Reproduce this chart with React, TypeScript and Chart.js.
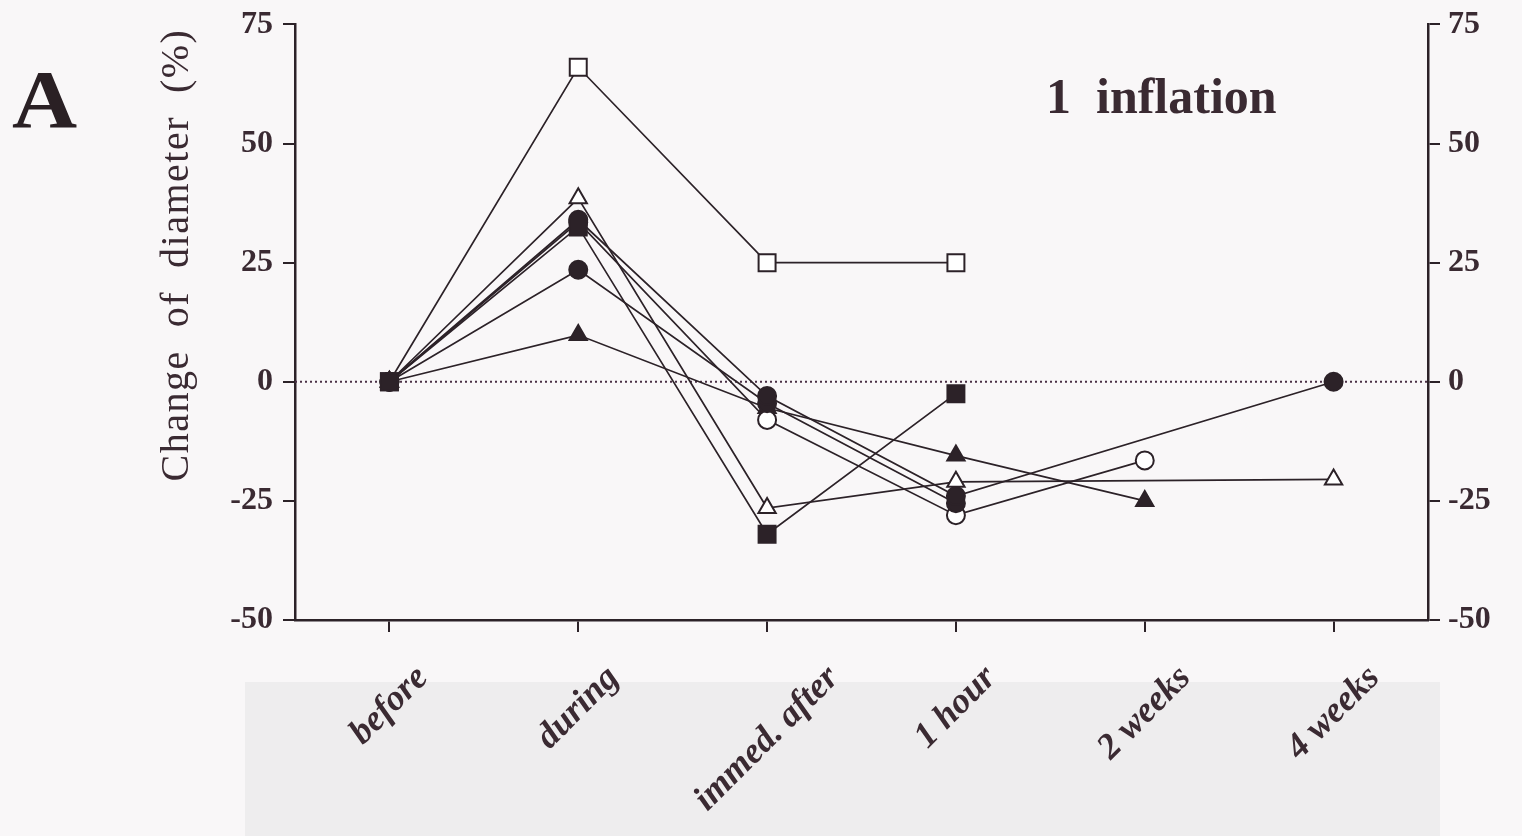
import React, { useEffect, useRef } from "react";
import { Chart, registerables } from "chart.js";

Chart.register(...registerables);

const categories = ["before", "during", "immed. after", "1 hour", "2 weeks", "4 weeks"];
const filledSquare = [0, 32.5, -32, -2.5, null, null];
const filledCircleA = [0, 34, -3, -24, null, 0];
const filledCircleB = [0, 23.5, -4.5, -25.5, null, null];
const openCircle = [0, 33.5, -8, -28, -16.5, null];
const openTriangle = [0, 38.5, -26.5, -21, null, -20.5];
const filledTriangle = [0, 9.8, -5.5, -15.5, -25, null];
const openSquare = [0, 66, 25, 25, null, null];
const yMin = -50;
const yMax = 75;
const yStep = 25;
const yTitle = "Change of diameter (%)";
const panelLetter = "A";
const panelTitle = "1 inflation";

const INK = "#2c2228";
const TEXT = "#3a2a32";
const SERIF = "'Liberation Serif', 'Times New Roman', serif";

export default function App() {
  const ref = useRef<HTMLCanvasElement | null>(null);

  useEffect(() => {
    document.body.style.margin = "0";
    const canvas = ref.current;
    if (!canvas) return;

    const mk = (data: (number | null)[], style: string, filled: boolean, radius: number, spanGaps = false) => ({
      data,
      borderColor: INK,
      borderWidth: 1.7,
      pointStyle: style,
      pointRadius: radius,
      pointHoverRadius: radius,
      pointBackgroundColor: filled ? INK : "#ffffff",
      pointBorderColor: INK,
      pointBorderWidth: 2,
      spanGaps,
      tension: 0,
      fill: false,
    });

    const decor = {
      id: "decor",
      beforeDraw(chart: any) {
        const { ctx, width, height } = chart;
        ctx.save();
        ctx.fillStyle = "#f9f7f8";
        ctx.fillRect(0, 0, width, height);
        ctx.fillStyle = "#eeedee";
        ctx.fillRect(245, 682, 1195, height - 682);
        ctx.restore();
      },
      beforeDatasetsDraw(chart: any) {
        const { ctx, chartArea, scales } = chart;
        const y0 = scales.y.getPixelForValue(0);
        ctx.save();
        ctx.strokeStyle = "#4a3045";
        ctx.lineWidth = 1.8;
        ctx.setLineDash([2, 3]);
        ctx.beginPath();
        ctx.moveTo(chartArea.left, y0);
        ctx.lineTo(chartArea.right, y0);
        ctx.stroke();
        ctx.restore();
      },
      afterDraw(chart: any) {
        const { ctx, scales } = chart;
        ctx.save();
        ctx.fillStyle = TEXT;
        // x labels, rotated 45°, centred on their ticks
        ctx.font = `italic bold 36px ${SERIF}`;
        const H = 30;
        categories.forEach((lab, i) => {
          const x = scales.x.getPixelForTick(i);
          const L = ctx.measureText(lab).width;
          const bb = (L + H) * Math.SQRT1_2;
          const cy = 662 + bb / 2;
          ctx.save();
          ctx.translate(x, cy);
          ctx.rotate(-Math.PI / 4);
          ctx.textAlign = "center";
          ctx.textBaseline = "middle";
          ctx.fillText(lab, 0, 0);
          ctx.restore();
        });
        // y title
        ctx.save();
        ctx.font = `40px ${SERIF}`;
        (ctx as any).letterSpacing = "1.5px";
        ctx.translate(188, 255);
        ctx.rotate(-Math.PI / 2);
        ctx.textAlign = "center";
        ctx.textBaseline = "alphabetic";
        ctx.fillText(yTitle.replace(/ /g, "  "), 0, 0);
        ctx.restore();
        // panel letter
        ctx.save();
        ctx.font = `bold 82px ${SERIF}`;
        ctx.textAlign = "left";
        ctx.textBaseline = "alphabetic";
        ctx.fillStyle = "#2a2024";
        ctx.translate(12, 127);
        ctx.scale(1.1, 1);
        ctx.fillText(panelLetter, 0, 0);
        ctx.restore();
        // panel title
        ctx.font = `bold 50px ${SERIF}`;
        ctx.fillStyle = TEXT;
        ctx.textAlign = "left";
        ctx.fillText(panelTitle.replace(" ", "  "), 1046, 113);
        ctx.restore();
      },
    };

    const yTickCfg = {
      font: { family: SERIF, size: 32, weight: "bold" as const, lineHeight: 0.9 },
      color: TEXT,
      padding: 10,
      stepSize: yStep,
      callback: (v: any) => String(v),
    };

    const chart = new Chart(canvas, {
      type: "line",
      data: {
        labels: categories,
        datasets: [
          mk(filledSquare, "rect", true, 12),
          mk(filledCircleA, "circle", true, 9, true),
          mk(filledCircleB, "circle", true, 9),
          mk(openCircle, "circle", false, 9),
          mk(openTriangle, "triangle", false, 10, true),
          mk(filledTriangle, "triangle", true, 10),
          mk(openSquare, "rect", false, 12),
        ] as any,
      },
      plugins: [decor],
      options: {
        animation: false,
        responsive: false,
        events: [],
        layout: { padding: { top: 22, left: 0, right: 0, bottom: 0 } },
        plugins: { legend: { display: false }, tooltip: { enabled: false }, title: { display: false } },
        scales: {
          x: {
            type: "category",
            offset: true,
            grid: { offset: false, drawOnChartArea: false, drawTicks: true, tickLength: 12, color: INK, lineWidth: 2 },
            border: { display: true, color: INK, width: 2.5 },
            ticks: { display: false },
            afterFit: (s: any) => { s.height = 216; },
          },
          y: {
            type: "linear",
            position: "left",
            min: yMin,
            max: yMax,
            grid: { drawOnChartArea: false, drawTicks: true, tickLength: 12, color: INK, lineWidth: 2 },
            border: { display: true, color: INK, width: 2.5 },
            ticks: yTickCfg,
            afterFit: (s: any) => { s.width = 295; },
          },
          y2: {
            type: "linear",
            position: "right",
            min: yMin,
            max: yMax,
            grid: { drawOnChartArea: false, drawTicks: true, tickLength: 12, color: INK, lineWidth: 2 },
            border: { display: true, color: INK, width: 2.5 },
            ticks: { ...yTickCfg, padding: 8 },
            afterFit: (s: any) => { s.width = 94; },
          },
        },
      } as any,
    });
    return () => chart.destroy();
  }, []);

  return (
    <div style={{ width: 1522, height: 836 }}>
      <canvas ref={ref} width={1522} height={836} style={{ display: "block" }} />
    </div>
  );
}
